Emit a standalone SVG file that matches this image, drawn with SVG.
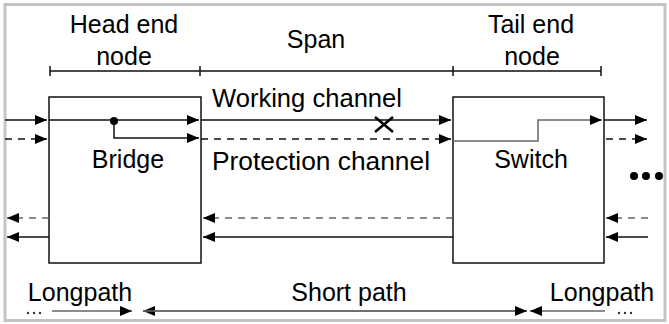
<svg xmlns="http://www.w3.org/2000/svg" width="669" height="324" viewBox="0 0 669 324">
<style>
text{font-family:"Liberation Sans",Arial,sans-serif;font-size:25px;fill:#000}
.ln{stroke:#111;stroke-width:1.5;fill:none}
.gr{stroke:#666;stroke-width:1.5;fill:none}
.ds{stroke-dasharray:7 6}
.box{fill:#fff;stroke:#111;stroke-width:1.5}
</style>
<defs>
<marker id="ah" viewBox="0 0 12 10" refX="12" refY="5" markerWidth="12" markerHeight="10" markerUnits="userSpaceOnUse" orient="auto">
<path d="M0,0 L12,5 L0,10 z" fill="#000"/>
</marker>
</defs>
<rect x="0" y="0" width="669" height="324" fill="#fff"/>
<rect id="frame" x="5" y="4.5" width="660" height="316" fill="none" stroke="#c4c4c4" stroke-width="3"/>

<g id="head-label">
<text x="124" y="33" text-anchor="middle">Head end</text>
<text x="124" y="65" text-anchor="middle">node</text>
</g>
<g id="span-label"><text x="316" y="48" text-anchor="middle">Span</text></g>
<g id="tail-label">
<text x="531" y="33" text-anchor="middle">Tail  end</text>
<text x="532" y="65" text-anchor="middle">node</text>
</g>
<g id="dimension">
<path class="ln" d="M50,71 H601 M50,66 V76 M200,66 V76 M453,66 V76 M601,66 V76"/>
</g>

<g id="head-node">
<rect class="box" x="49" y="97" width="152" height="166"/>
<text x="128" y="168" text-anchor="middle">Bridge</text>
</g>
<g id="tail-node">
<rect class="box" x="453" y="97" width="151" height="166"/>
<text x="531" y="168" text-anchor="middle">Switch</text>
</g>

<g id="channel-labels">
<text x="212" y="107" textLength="190" lengthAdjust="spacingAndGlyphs">Working channel</text>
<text x="212" y="170" textLength="218" lengthAdjust="spacingAndGlyphs">Protection channel</text>
</g>

<g id="connectors">
<!-- incoming left -->
<path class="ln" d="M5,120 H47" marker-end="url(#ah)"/>
<path class="ln ds" d="M5,139 H47" marker-end="url(#ah)"/>
<!-- bridge -->
<path class="ln" d="M49,120 H199" marker-end="url(#ah)"/>
<circle cx="114" cy="121" r="4" fill="#000"/>
<path class="ln" d="M114,121 V138 H199" marker-end="url(#ah)"/>
<!-- span -->
<path class="ln" d="M201,120 H451" marker-end="url(#ah)"/>
<path class="ln ds" d="M201,139 H451" marker-end="url(#ah)"/>
<path stroke="#000" stroke-width="2.5" fill="none" d="M375,117 L393,132 M393,117 L375,132"/>
<!-- switch -->
<path class="gr" d="M453,141 H538 V120 H602" marker-end="url(#ah)"/>
<!-- outgoing right -->
<path class="ln" d="M604,120 H647" marker-end="url(#ah)"/>
<path class="ln ds" d="M606,139 H647" marker-end="url(#ah)"/>
<!-- return direction -->
<path class="gr ds" d="M453,218 H203" marker-end="url(#ah)"/>
<path class="ln" d="M453,237 H203" marker-end="url(#ah)"/>
<path class="gr ds" d="M49,218 H7" marker-end="url(#ah)"/>
<path class="ln" d="M49,237 H7" marker-end="url(#ah)"/>
<path class="gr ds" d="M648,218 H606" marker-end="url(#ah)"/>
<path class="ln" d="M648,237 H606" marker-end="url(#ah)"/>
<!-- bottom path arrows -->
<path class="gr" d="M52,311 H132" marker-end="url(#ah)"/>
<path class="gr" d="M527,311 H143" marker-end="url(#ah)"/>
<path class="gr" d="M143,311 H527" marker-end="url(#ah)"/>
<path class="gr" d="M605,311 H530" marker-end="url(#ah)"/>
</g>

<g id="ellipsis">
<circle cx="634" cy="176" r="4" fill="#000"/>
<circle cx="646" cy="176" r="4" fill="#000"/>
<circle cx="659" cy="176" r="4" fill="#000"/>
</g>

<g id="bottom-labels">
<text x="80" y="301" text-anchor="middle">Longpath</text>
<text x="349" y="301" text-anchor="middle">Short path</text>
<text x="602" y="301" text-anchor="middle">Longpath</text>
<g fill="#333">
<circle cx="28" cy="313" r="1.2"/><circle cx="34" cy="313" r="1.2"/><circle cx="40" cy="313" r="1.2"/>
<circle cx="619" cy="313" r="1.2"/><circle cx="625" cy="313" r="1.2"/><circle cx="631" cy="313" r="1.2"/>
</g>
</g>
</svg>
